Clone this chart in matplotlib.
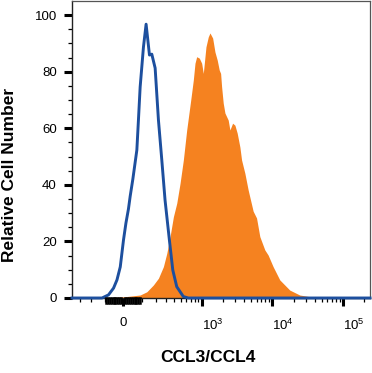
import numpy as np
import matplotlib
matplotlib.use('Agg')
import matplotlib.pyplot as plt

plt.rcParams['font.family'] = ['Liberation Sans', 'DejaVu Sans']
plt.rcParams['mathtext.fontset'] = 'custom'
plt.rcParams['mathtext.rm'] = 'Liberation Sans'

# isotype control (blue outline)
iso_x = [-400, -178, -117, -78, -50, -32, -15, 1.5, 14, 27, 36, 50, 72, 81, 91,
         111, 128, 151, 168, 194, 222, 253, 286, 335, 378, 434, 544, 643, 240000]
iso_y = [0, 0, 0, 1.1, 3.5, 6.4, 11.0, 20.5, 26.5, 31.5, 36.0, 42.0, 52.3, 62.9, 74.6,
         88.7, 96.8, 85.9, 86.2, 81.3, 62.9, 48.8, 34.6, 20.5, 9.9, 4.0, 0.5, 0, 0]

# CCL3/CCL4 stained (orange fill)
stain_x = [-400, -128, 10, 91, 133, 180, 222, 269, 305, 343, 386, 434, 486, 544, 609,
           697, 759, 803, 849, 926, 1001, 1056, 1153, 1243, 1314, 1435, 1547, 1667,
           1779, 1862, 1923, 2027, 2143, 2385, 2520, 2752, 2966, 3195, 3487, 3685,
           4103, 4566, 5370, 5996, 6674, 7850, 8735, 10274, 12764, 17663, 24414,
           33780, 41966, 240000]
stain_y = [0, 0, 0.46, 1.06, 2.2, 4.6, 7.0, 11.1, 15.8, 21.7, 28.7, 33.5, 40.5, 48.8, 59.4,
           70.0, 77.0, 83.0, 85.3, 84.8, 83.0, 79.4, 88.8, 92.3, 93.7, 91.9, 87.0, 84.1,
           80.6, 79.4, 74.7, 68.9, 65.4, 62.9, 59.4, 61.8, 61.1, 58.3, 53.4, 48.8,
           44.1, 38.2, 30.7, 28.3, 21.7, 17.0, 15.2, 11.1, 6.4, 2.8, 1.06,
           0.46, 0, 0]

major_x = [0, 1e3, 1e4, 1e5]
major_labels = ['0', r'$\mathregular{10^3}$', r'$\mathregular{10^4}$', r'$\mathregular{10^5}$']

W = 157.0  # width of the linear part of the axis


def fwd(v):
    return np.arcsinh(np.asarray(v) / W) / np.log(10)


def inv(v):
    return W * np.sinh(np.asarray(v) * np.log(10))


minor_x = []
for k in [1, 2]:
    for m in range(1, 10):
        minor_x.append(-m * 10 ** k)
for k in [1, 2, 3, 4]:
    for m in range(1, 10):
        minor_x.append(m * 10 ** k)
minor_x.append(2e5)
minor_x = [v for v in minor_x if -400 < v < 2.4e5 and v not in major_x]
# dense ticks around zero are drawn heavier
near_zero = [v for v in minor_x if abs(v) < 100]
minor_x = [v for v in minor_x if abs(v) >= 100]

fig = plt.figure(figsize=(3.72, 3.73), dpi=100)
ax = fig.add_axes([72 / 372, 75 / 373, 298 / 372, 297 / 373])
ax.set_xscale('function', functions=(fwd, inv))

ax.fill_between(stain_x, stain_y, 0, color='#f58220', lw=0, zorder=2)
ax.plot(iso_x, iso_y, color='#1d4f9e', lw=2.1, zorder=3, clip_on=False)

ax.set_xlim(-400, 2.4e5)
ax.set_ylim(0, 105)

ax.set_xticks(major_x)
ax.set_xticklabels(major_labels)
ax.set_xticks(minor_x, minor=True)
ax.set_yticks([0, 20, 40, 60, 80, 100])
ax.set_yticks(np.arange(5, 105, 5), minor=True)

ax.tick_params(axis='both', which='major', direction='out', length=6, width=2.2,
               color='black', labelsize=9.5)
ax.tick_params(axis='both', which='minor', direction='out', length=3.2, width=0.9,
               color='black')
ax.tick_params(axis='y', which='major', pad=5)
ax.tick_params(axis='x', which='major', pad=8)

for v in near_zero:
    ax.plot([v, v], [0, -0.018], color='black', lw=1.8,
            transform=ax.get_xaxis_transform(), clip_on=False, zorder=4)

for lbl in ax.get_xticklabels()[1:]:
    lbl.set_horizontalalignment('left')

for s in ['top', 'right']:
    ax.spines[s].set_color('#555555')
    ax.spines[s].set_linewidth(0.9)
for s in ['left', 'bottom']:
    ax.spines[s].set_color('#222222')
    ax.spines[s].set_linewidth(1.0)

fig.text(10 / 372, 1 - 175 / 373, 'Relative Cell Number', rotation=90,
         ha='center', va='center', fontsize=12.5, fontweight='bold')
fig.text(208 / 372, 1 - 358 / 373, 'CCL3/CCL4', ha='center', va='center',
         fontsize=12.5, fontweight='bold')

fig.savefig('out.png', dpi=100)
